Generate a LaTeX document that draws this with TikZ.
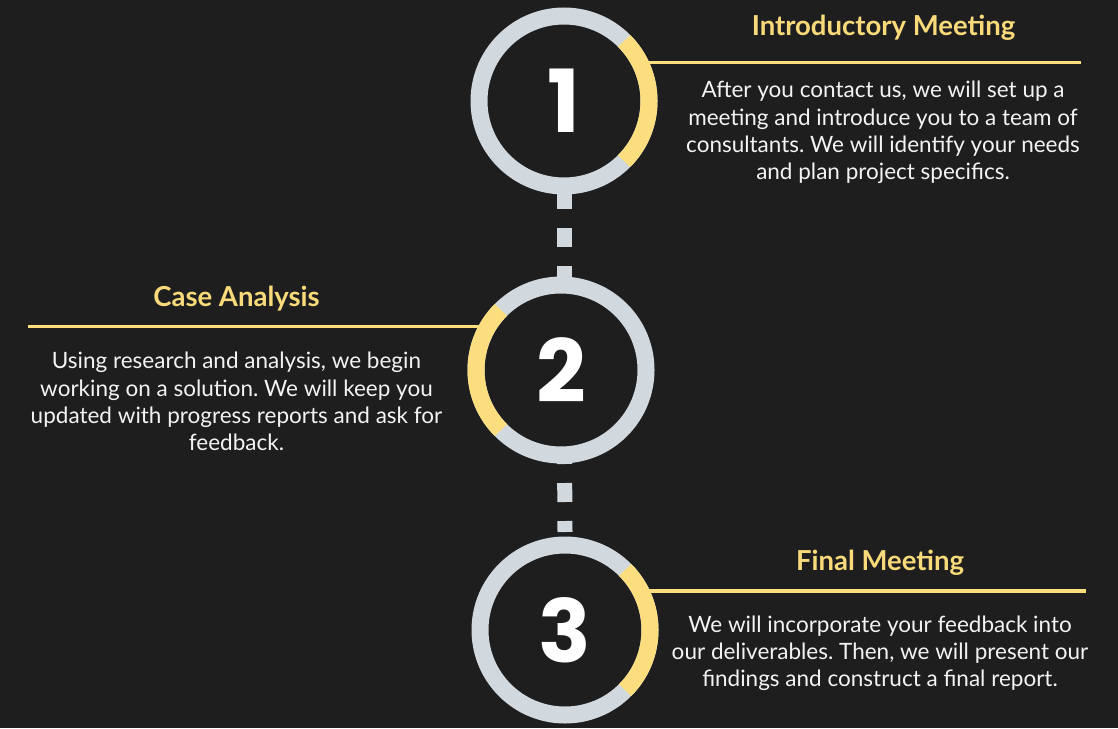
\documentclass[tikz,border=0pt]{standalone}
\usepackage{fontspec}
\setmainfont{Lato}
\newfontfamily\numfont{Poppins Bold}
\usetikzlibrary{backgrounds}
\frenchspacing

\definecolor{bgc}{HTML}{1E1E1E}
\definecolor{ringgrey}{HTML}{D1D9DF}
\definecolor{accent}{HTML}{FDDE7E}
\definecolor{titlecol}{HTML}{F9DA7A}
\definecolor{bodycol}{HTML}{F3F3F3}

% invisible strut fixing the top of the first line of a description
\newcommand{\firstlinestrut}{\rule{0pt}{18pt}}

\tikzset{
  stepring/.style={circle, draw=ringgrey, fill=bgc, line width=17pt,
    minimum size=170pt, inner sep=0pt, outer sep=0pt, text=white,
    font=\numfont\fontsize{87}{87}\selectfont},
  accentarc/.style={draw=accent, line width=17pt},
  leader/.style={draw=accent, line width=3.2pt},
  dashline/.style={draw=ringgrey, line width=15pt, dash pattern=on 19pt off 19pt},
  steptitle/.style={text=titlecol, inner sep=0pt, anchor=base,
    font=\bfseries\fontsize{27.5}{30}\selectfont},
  stepbody/.style={text=bodycol, inner sep=0pt, anchor=north, align=center,
    font=\fontsize{22.5}{27.3}\selectfont}
}

\begin{document}
\begin{tikzpicture}[x=1pt,y=1pt]
  \useasboundingbox (0,0) rectangle (1118,-728);

  % step circles
  \node[stepring] (c1) at (564,-101) {1};
  \node[stepring] (c2) at (561,-370) {2};
  \node[stepring] (c3) at (565,-630) {3};

  % highlighted quarter of each ring
  \draw[accentarc] (c1.45) arc[start angle=45, end angle=-45, radius=85pt];
  \draw[accentarc] (c2.135) arc[start angle=135, end angle=225, radius=85pt];
  \draw[accentarc] (c3.45) arc[start angle=45, end angle=-45, radius=85pt];

  % free ends of the leader lines and of the lower dashed link
  \coordinate (e1) at (1081,-62.5);
  \coordinate (e2) at (28,-326.5);
  \coordinate (e3) at (1086,-591);
  \coordinate (d3) at (565,-532);

  \begin{pgfonlayer}{background}
    \fill[bgc] (0,0) rectangle (1118,-728);
    \draw[dashline, dash phase=25pt] (c1.center) -- (c1.center |- c2.center);
    \draw[dashline, dash phase=1pt] (c1.center |- c2.center) -- (d3);
    \draw[leader] (c1.center |- e1) -- (e1);
    \draw[leader] (e2) -- (c2.center |- e2);
    \draw[leader] (c3.center |- e3) -- (e3);
  \end{pgfonlayer}

  % titles and descriptions (description nodes sit 18pt above their first baseline)
  \node[steptitle] (t1) at (883.5,-35) {Introductory Meeting};
  \node[stepbody] (b1) at (883,-79.7) {\firstlinestrut After you contact us, we will set up a\\
    meeting and introduce you to a team of\\
    consultants. We will identify your needs\\
    and plan project specifics.};

  \node[steptitle] (t2) at (236.5,-306) {Case Analysis};
  \node[stepbody] (b2) at (236.5,-350.7) {\firstlinestrut Using research and analysis, we begin\\
    working on a solution. We will keep you\\
    updated with progress reports and ask for\\
    feedback.};

  \node[steptitle] (t3) at (880,-570) {Final Meeting};
  \node[stepbody] (b3) at (880,-614) {\firstlinestrut We will incorporate your feedback into\\
    our deliverables. Then, we will present our\\
    findings and construct a final report.};
\end{tikzpicture}
\end{document}
